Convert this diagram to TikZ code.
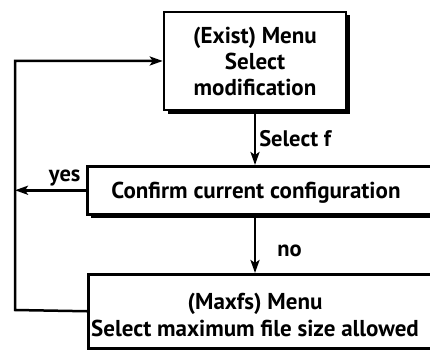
\documentclass[tikz,border=0pt]{standalone}
\usepackage{fontspec}
\setmainfont{PT Sans}
\usetikzlibrary{arrows.meta, shadows}
\usetikzlibrary{positioning}

\begin{document}
\begin{tikzpicture}[x=1pt, y=-1pt, line width=2.5pt,
		menubox/.style={draw, fill=white, inner sep=0pt},
		shadowbox/.style={menubox, drop shadow={shadow xshift=3.5pt, shadow yshift=-3.5pt, fill=black, opacity=1}},
		boxtext/.style={font=\bfseries\fontsize{23}{26}\selectfont, align=center, inner sep=0pt},
		flow/.style={-{Stealth[length=13pt, width=9pt, inset=3pt]}},
		arrowlabel/.style={font=\bfseries\fontsize{22.5}{26}\selectfont, inner sep=3pt}]
	\useasboundingbox (0,0) rectangle (430,350);
	\clip (0,0) rectangle (430,350);
	% Menues
	\node[shadowbox, boxtext, minimum width=182pt, minimum height=98pt] (exist) at (255,61) {(Exist) Menu\\Select\\modification};
	\node[shadowbox, anchor=north west, minimum width=360pt, minimum height=48pt] (confirm) at (86,165) {};
	\node[boxtext, anchor=base] (confirmtext) at (256,198) {Confirm current configuration};
	\node[menubox, anchor=north west, minimum width=360pt, minimum height=74pt] (maxfs) at (87,273) {};
	\node[boxtext, anchor=base] (maxfstext) at (255,309) {(Maxfs) Menu};
	\node[boxtext, anchor=base] (sizetext) at (255,336) {Select maximum file size allowed};
	% Pfeile
	\coordinate (bend) at (15,310);
	\draw[flow] (exist.south) -- (exist.south |- confirm.north) node[midway, right, arrowlabel] {Select f};
	\draw[flow] (confirm.south -| exist.south) -- (maxfs.north -| exist.south) node[pos=0.62, right=18pt, arrowlabel] {no};
	\draw[flow] (confirm.west) -- (confirm.west -| bend) node[pos=0.3, above=3pt, arrowlabel, inner sep=0pt] {yes};
	\draw[flow] (maxfs.west) -- (bend) |- (exist.west);
\end{tikzpicture}
\end{document}
